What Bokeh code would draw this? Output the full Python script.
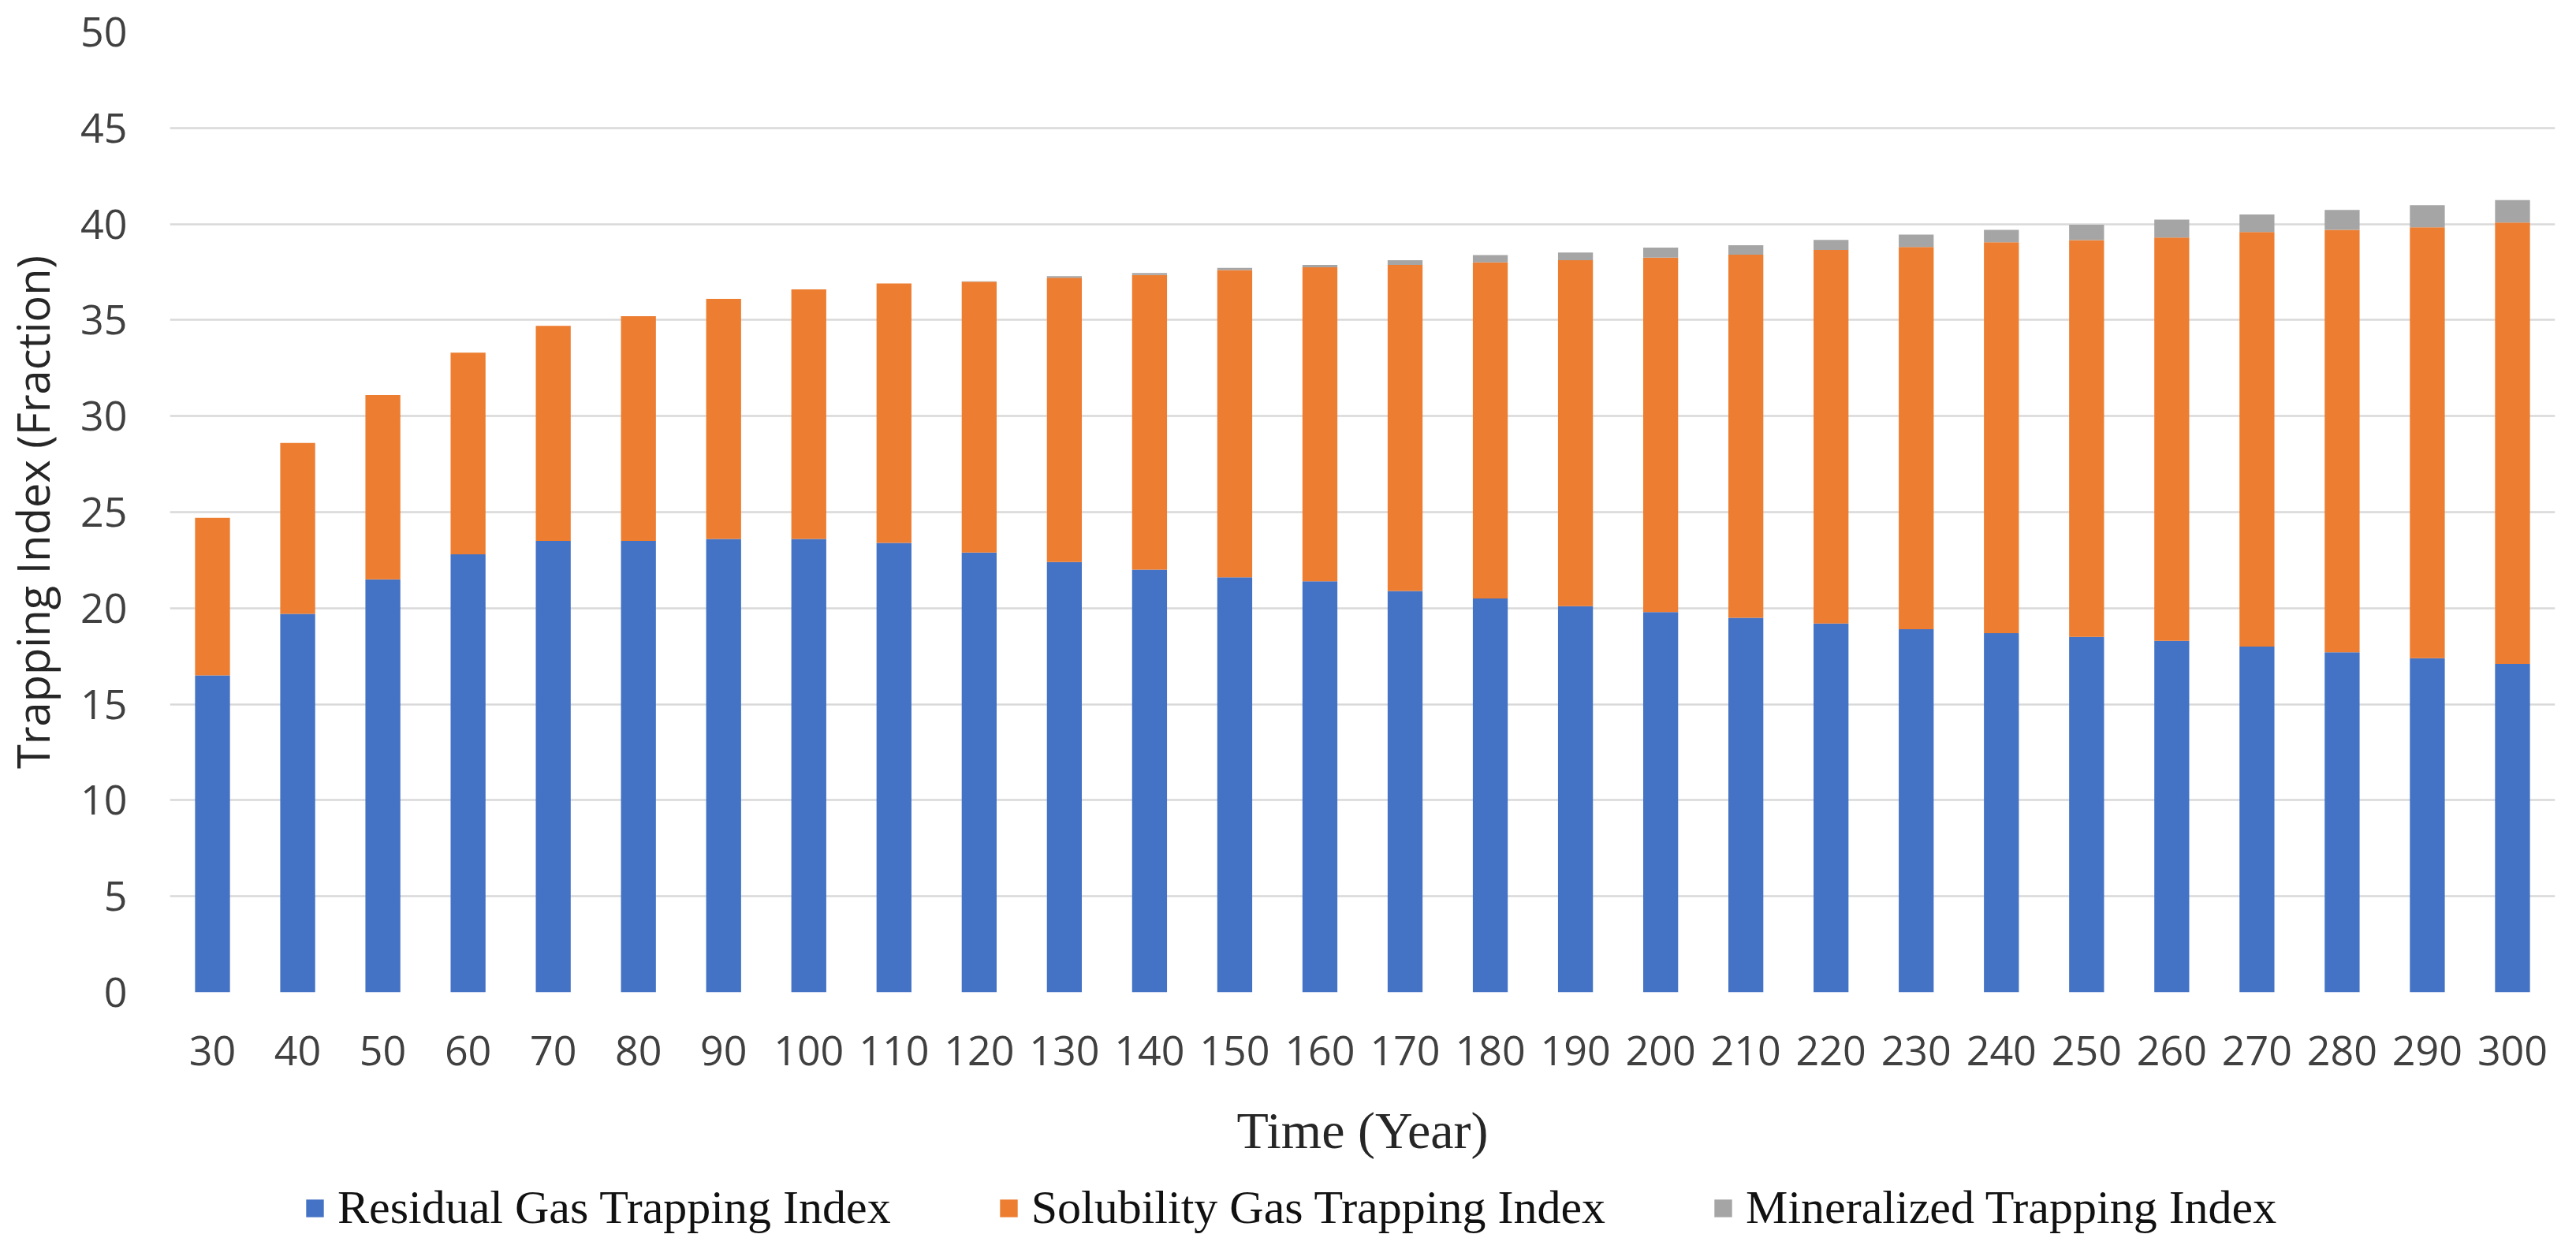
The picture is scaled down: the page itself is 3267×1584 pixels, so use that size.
from bokeh.plotting import figure
from bokeh.layouts import column
from bokeh.models import FactorRange, Range1d, Legend, LegendItem, FixedTicker, ColumnDataSource
from bokeh.embed import file_html
from bokeh.resources import INLINE

years = ["30", "40", "50", "60", "70", "80", "90", "100", "110", "120", "130", "140",
         "150", "160", "170", "180", "190", "200", "210", "220", "230", "240", "250",
         "260", "270", "280", "290", "300"]
residual = [16.5, 19.7, 21.5, 22.8, 23.5, 23.5, 23.6, 23.6, 23.4, 22.9, 22.4, 22.0, 21.6, 21.4,
            20.9, 20.5, 20.1, 19.8, 19.5, 19.2, 18.9, 18.7, 18.5, 18.3, 18.0, 17.7, 17.4, 17.1]
solubility = [8.2, 8.9, 9.6, 10.5, 11.2, 11.7, 12.5, 13.0, 13.5, 14.1, 14.8, 15.35, 16.0, 16.35,
               16.97, 17.5, 18.02, 18.45, 18.9, 19.45, 19.9, 20.35, 20.66, 21.0, 21.58, 22.0, 22.43, 22.98]
mineralized = [0, 0, 0, 0, 0, 0, 0, 0, 0, 0.02, 0.08, 0.1, 0.12, 0.12,
               0.25, 0.38, 0.4, 0.52, 0.5, 0.52, 0.65, 0.65, 0.8, 0.93, 0.92, 1.03, 1.15, 1.17]
series_names = ["Residual Gas Trapping Index", "Solubility Gas Trapping Index", "Mineralized Trapping Index"]
stack_fields = ["residual", "solubility", "mineralized"]
colors = ["#4472C4", "#ED7D31", "#A5A5A5"]
y_ticks = list(range(0, 51, 5))

src = ColumnDataSource(dict(year=years, residual=residual, solubility=solubility, mineralized=mineralized))

# ---- main chart ----
p = figure(x_range=FactorRange(*years), y_range=Range1d(0, 50),
           width=3251, height=1496, output_backend="svg", toolbar_location=None,
           min_border_left=211, min_border_right=11, min_border_top=40, min_border_bottom=238)
p.x_range.range_padding = 0
p.outline_line_color = None
p.background_fill_color = "white"

rs = p.vbar_stack(stack_fields, x="year", width=0.41, color=colors, line_color=None, source=src)

p.xgrid.grid_line_color = None
p.ygrid.ticker = FixedTicker(ticks=y_ticks)
p.ygrid.grid_line_color = "#d9d9d9"
p.ygrid.grid_line_width = 2.5

p.yaxis.ticker = FixedTicker(ticks=y_ticks)
for ax in (p.xaxis[0], p.yaxis[0]):
    ax.axis_line_color = None
    ax.major_tick_line_color = None
    ax.minor_tick_line_color = None
    ax.major_tick_out = 0
    ax.major_tick_in = 0
    ax.major_label_text_font = "Open Sans"
    ax.major_label_text_font_size = "52px"
    ax.major_label_text_color = "#404040"
    ax.axis_label_text_font_style = "normal"
    ax.axis_label_text_color = "#262626"

p.yaxis.axis_label = "Trapping Index (Fraction)"
p.yaxis.axis_label_text_font = "Open Sans"
p.yaxis.axis_label_text_font_size = "56px"
p.yaxis.major_label_standoff = 54
p.yaxis.axis_label_standoff = 20

p.xaxis.axis_label = "Time (Year)"
p.xaxis.axis_label_text_font = "Liberation Serif"
p.xaxis.axis_label_text_font_size = "66px"
p.xaxis.major_label_standoff = 55
p.xaxis.axis_label_standoff = 43
p.xaxis.group_text_font_size = "0px"

# ---- legend strip below the chart (same data, y window out of view so only the legend shows) ----
pl = figure(x_range=p.x_range, y_range=Range1d(100, 101), width=3251, height=72,
            output_backend="svg", toolbar_location=None, x_axis_type=None, y_axis_type=None,
            min_border_left=0, min_border_right=0, min_border_top=0, min_border_bottom=0)
pl.outline_line_color = None
pl.xgrid.grid_line_color = None
pl.ygrid.grid_line_color = None
pl.background_fill_color = "white"
swatches = pl.vbar_stack(stack_fields, x="year", width=0.41, color=colors, line_color=None, source=src)

legend = Legend(items=[LegendItem(label=n, renderers=[r]) for n, r in zip(series_names, swatches)],
                orientation="horizontal", location=(170, 2))
legend.label_text_font = "Liberation Serif"
legend.label_text_font_size = "60px"
legend.label_text_color = "#111111"
legend.glyph_width = 28
legend.glyph_height = 28
legend.label_standoff = 15
legend.spacing = 135
legend.padding = 0
legend.margin = 0
legend.border_line_color = None
legend.background_fill_alpha = 0
pl.add_layout(legend, "center")

layout = column(p, pl, spacing=0)
open("out.html", "w").write(file_html(layout, INLINE))
